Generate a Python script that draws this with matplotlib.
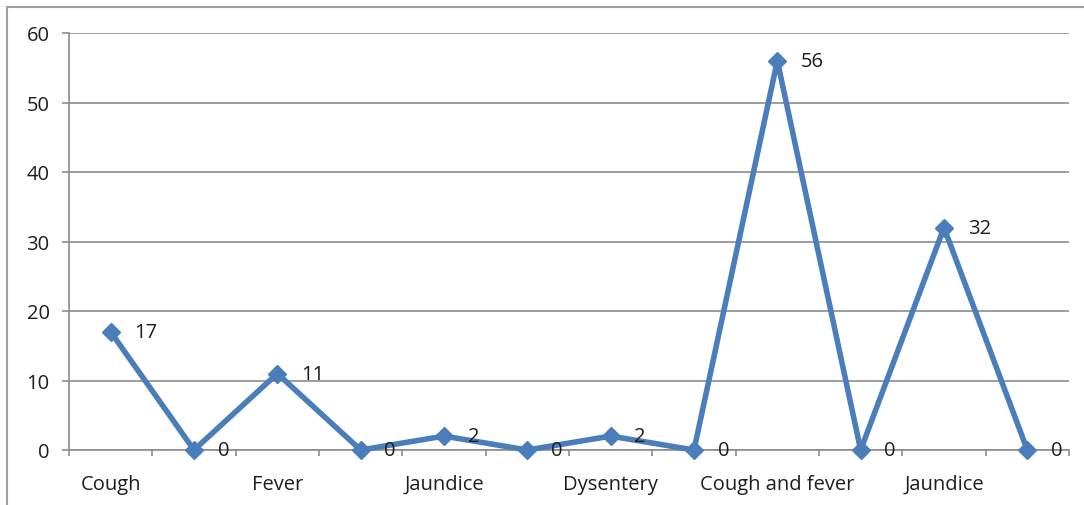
import matplotlib.pyplot as plt
from matplotlib.patches import Rectangle
from matplotlib.ticker import FixedLocator, NullFormatter

# Cases recorded per complaint (alternate slots are empty categories)
categories = ['Cough', '', 'Fever', '', 'Jaundice', '', 'Dysentery', '',
              'Cough and fever', '', 'Jaundice', '']
cases = [17, 0, 11, 0, 2, 0, 2, 0, 56, 0, 32, 0]
y_ticks = [0, 10, 20, 30, 40, 50, 60]

line_color = '#4A7EBB'
grid_color = '#8C8C8C'
text_color = '#1E1E1E'
fs = 14.5

plt.rcParams['font.family'] = ['Open Sans', 'DejaVu Sans']

fig = plt.figure(figsize=(10.84, 5.06), dpi=100)
ax = fig.add_axes([69 / 1084, 1 - 451 / 506, 1000 / 1084, 417 / 506])

# light frame around the whole chart, running off the right and bottom edges
fig.patches.append(Rectangle((7 / 1084, -0.1), 1.2, 1 - 8 / 506 + 0.1,
                             transform=fig.transFigure, fill=False,
                             edgecolor='#A0A0A0', linewidth=1.5))

x = list(range(len(cases)))
ax.plot(x, cases, color=line_color, linewidth=4, marker='D',
        markersize=9.5, markeredgecolor=line_color, zorder=3, clip_on=False)

for xi, v in zip(x, cases):
    ax.annotate(str(v), (xi, v), xytext=(17, 0), textcoords='offset points',
                ha='left', va='center', fontsize=fs, color=text_color, zorder=4)

ax.set_xlim(-0.5, len(cases) - 0.5)
ax.set_ylim(0, 60)
ax.set_yticks(y_ticks)
ax.yaxis.grid(True, color=grid_color, linewidth=1.2)
ax.set_axisbelow(True)

# category ticks sit on the boundaries, labels centred under each point
ax.xaxis.set_major_locator(FixedLocator([i - 0.5 for i in range(len(cases) + 1)]))
ax.xaxis.set_major_formatter(NullFormatter())
ax.xaxis.set_minor_locator(FixedLocator(x))
ax.set_xticklabels(categories, minor=True)
ax.tick_params(axis='x', which='major', length=4, color=grid_color, direction='out', width=1.2)
ax.tick_params(axis='x', which='minor', length=0, pad=17, labelsize=fs, labelcolor=text_color)
ax.tick_params(axis='y', length=5, color=grid_color, width=1.2, pad=9,
               labelsize=fs, labelcolor=text_color)

for side in ['top', 'right']:
    ax.spines[side].set_visible(False)
for side in ['left', 'bottom']:
    ax.spines[side].set_color(grid_color)
    ax.spines[side].set_linewidth(1.2)

fig.savefig('out.png', dpi=100)
